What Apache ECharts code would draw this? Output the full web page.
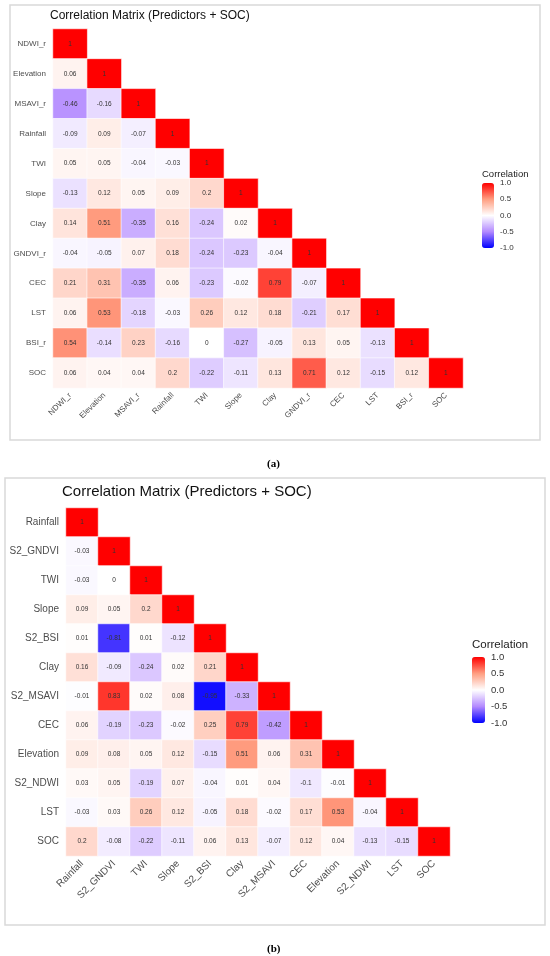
<!DOCTYPE html>
<html>
<head>
<meta charset="utf-8">
<title>Correlation Matrix</title>
<script src="https://cdn.jsdelivr.net/npm/echarts@6/dist/echarts.min.js"></script>
<style>
  html, body { margin: 0; padding: 0; background: #fff; }
  #chart { width: 550px; height: 956px; }
</style>
</head>
<body>
<div id="chart"></div>
<script>
// panel (a) variables and lower triangle of the correlation matrix (row by row)
var varsA = ['NDWI_r', 'Elevation', 'MSAVI_r', 'Rainfall', 'TWI', 'Slope', 'Clay', 'GNDVI_r', 'CEC', 'LST', 'BSI_r', 'SOC'];
var corrA = [
    [1],
    [0.06, 1],
    [-0.46, -0.16, 1],
    [-0.09, 0.09, -0.07, 1],
    [0.05, 0.05, -0.04, -0.03, 1],
    [-0.13, 0.12, 0.05, 0.09, 0.2, 1],
    [0.14, 0.51, -0.35, 0.16, -0.24, 0.02, 1],
    [-0.04, -0.05, 0.07, 0.18, -0.24, -0.23, -0.04, 1],
    [0.21, 0.31, -0.35, 0.06, -0.23, -0.02, 0.79, -0.07, 1],
    [0.06, 0.53, -0.18, -0.03, 0.26, 0.12, 0.18, -0.21, 0.17, 1],
    [0.54, -0.14, 0.23, -0.16, 0, -0.27, -0.05, 0.13, 0.05, -0.13, 1],
    [0.06, 0.04, 0.04, 0.2, -0.22, -0.11, 0.13, 0.71, 0.12, -0.15, 0.12, 1]
];

// panel (b)
var varsB = ['Rainfall', 'S2_GNDVI', 'TWI', 'Slope', 'S2_BSI', 'Clay', 'S2_MSAVI', 'CEC', 'Elevation', 'S2_NDWI', 'LST', 'SOC'];
var corrB = [
    [1],
    [-0.03, 1],
    [-0.03, 0, 1],
    [0.09, 0.05, 0.2, 1],
    [0.01, -0.81, 0.01, -0.12, 1],
    [0.16, -0.09, -0.24, 0.02, 0.21, 1],
    [-0.01, 0.83, 0.02, 0.08, -0.95, -0.33, 1],
    [0.06, -0.19, -0.23, -0.02, 0.25, 0.79, -0.42, 1],
    [0.09, 0.08, 0.05, 0.12, -0.15, 0.51, 0.06, 0.31, 1],
    [0.03, 0.05, -0.19, 0.07, -0.04, 0.01, 0.04, -0.1, -0.01, 1],
    [-0.03, 0.03, 0.26, 0.12, -0.05, 0.18, -0.02, 0.17, 0.53, -0.04, 1],
    [0.2, -0.08, -0.22, -0.11, 0.06, 0.13, -0.07, 0.12, 0.04, -0.13, -0.15, 1]
];

var legendTicks = [-1, -0.5, 0, 0.5, 1];

var FONT = '"Liberation Sans", Arial, sans-serif';
var SERIF = '"Liberation Serif", "DejaVu Serif", serif';
// blue - white - red, stops roughly as in a Lab gradient
var RAMP = ['#0000FF', '#B38AFF', '#FFFFFF', '#FF9E81', '#FF0000'];

function toCells(rows) {
    var out = [];
    rows.forEach(function (row, i) {
        row.forEach(function (v, j) {
            out.push([j, i, v]);
        });
    });
    return out;
}

// layout of each panel
var panels = [
    {vars: varsA, rows: corrA, grid: {left: 53, top: 29, width: 410, height: 359},
        axisFont: 8, cellFont: 6.5, bar: {left: 482, top: 183, w: 12, h: 65}, barFont: 8},
    {vars: varsB, rows: corrB, grid: {left: 66, top: 508, width: 384, height: 348},
        axisFont: 10, cellFont: 6.5, bar: {left: 472, top: 657, w: 13, h: 66}, barFont: 9.5}
];

var grid = [], xAxis = [], yAxis = [], series = [], visualMap = [];

panels.forEach(function (p, k) {
    grid.push(p.grid);
    xAxis.push({
        type: 'category', gridIndex: k, data: p.vars,
        axisLine: {show: false}, axisTick: {show: false}, splitLine: {show: false},
        axisLabel: {rotate: 45, interval: 0, margin: 6, fontSize: p.axisFont, color: '#4d4d4d', fontFamily: FONT}
    });
    yAxis.push({
        type: 'category', gridIndex: k, data: p.vars, inverse: true,
        axisLine: {show: false}, axisTick: {show: false}, splitLine: {show: false},
        axisLabel: {interval: 0, margin: 7, fontSize: p.axisFont, color: '#4d4d4d', fontFamily: FONT}
    });
    series.push({
        type: 'heatmap', xAxisIndex: k, yAxisIndex: k,
        data: toCells(p.rows),
        itemStyle: {borderColor: '#ffffff', borderWidth: 0.6},
        label: {
            show: true, fontSize: p.cellFont, color: '#333', fontFamily: FONT,
            formatter: function (d) { return String(d.value[2]); }
        },
        emphasis: {disabled: true}
    });
    visualMap.push({
        type: 'continuous', seriesIndex: k, min: -1, max: 1, dimension: 2,
        calculable: false, realtime: false, hoverLink: false,
        left: p.bar.left, top: p.bar.top, itemWidth: p.bar.w, itemHeight: p.bar.h,
        padding: 0, inRange: {color: RAMP}
    });
});

// small value axes next to the colour bars, for the 1.0 ... -1.0 labels
panels.forEach(function (p, k) {
    var gi = grid.length;
    grid.push({left: p.bar.left, top: p.bar.top, width: p.bar.w, height: p.bar.h});
    xAxis.push({type: 'value', gridIndex: gi, show: false});
    yAxis.push({
        type: 'value', gridIndex: gi, position: 'right', min: -1, max: 1, interval: 0.5,
        axisLine: {show: false}, axisTick: {show: false}, splitLine: {show: false},
        axisLabel: {
            margin: 6, fontSize: p.barFont, color: '#333', fontFamily: FONT,
            customValues: legendTicks,
            formatter: function (v) { return v.toFixed(1); }
        }
    });
});

var option = {
    backgroundColor: '#ffffff',
    animation: false,
    title: [
        {text: 'Correlation Matrix (Predictors + SOC)', left: 45, top: 5,
            textStyle: {fontSize: 12, fontWeight: 'normal', color: '#111', fontFamily: FONT}},
        {text: 'Correlation Matrix (Predictors + SOC)', left: 57, top: 479,
            textStyle: {fontSize: 15, fontWeight: 'normal', color: '#111', fontFamily: FONT}},
        {text: 'Correlation', left: 477, top: 164,
            textStyle: {fontSize: 9.5, fontWeight: 'normal', color: '#222', fontFamily: FONT}},
        {text: 'Correlation', left: 467, top: 634,
            textStyle: {fontSize: 11.5, fontWeight: 'normal', color: '#222', fontFamily: FONT}},
        {text: '(a)', left: 262, top: 454,
            textStyle: {fontSize: 11, fontWeight: 'bold', color: '#000', fontFamily: SERIF}},
        {text: '(b)', left: 262, top: 939,
            textStyle: {fontSize: 11, fontWeight: 'bold', color: '#000', fontFamily: SERIF}}
    ],
    graphic: [
        {type: 'rect', shape: {x: 10, y: 5, width: 530, height: 435}, silent: true,
            style: {fill: 'none', stroke: '#d9d9d9', lineWidth: 1.5}},
        {type: 'rect', shape: {x: 5, y: 478, width: 540, height: 447}, silent: true,
            style: {fill: 'none', stroke: '#d9d9d9', lineWidth: 1.5}}
    ],
    grid: grid,
    xAxis: xAxis,
    yAxis: yAxis,
    visualMap: visualMap,
    series: series
};

var myChart = echarts.init(document.getElementById('chart'));
myChart.setOption(option);
</script>
</body>
</html>
